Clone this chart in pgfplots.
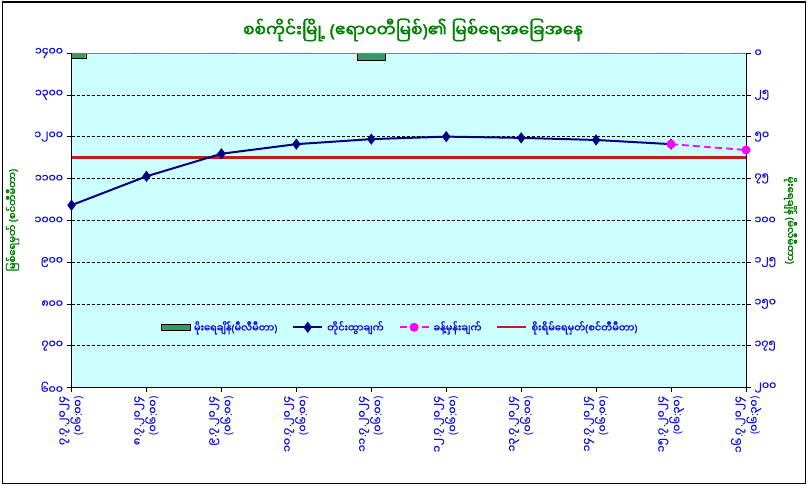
\documentclass[border=0pt]{standalone}
\usepackage{fontspec}
\usepackage{pgfplots}
\usepackage{pgfplotstable}
\pgfplotsset{compat=1.18}
\newfontfamily\my[Script=Myanmar,AutoFakeBold=2]{Noto Sans Myanmar UI}
\newfontfamily\myt[Script=Myanmar,FakeBold=0.8]{Noto Sans Myanmar UI}
\newfontfamily\lat[AutoFakeBold=2]{Noto Sans}
% punctuation that the Myanmar font lacks
\newcommand\p[1]{{\lat#1}}
\definecolor{plotbg}{HTML}{CCFFFF}
\definecolor{rain}{HTML}{339966}
\definecolor{obs}{HTML}{000080}
\definecolor{fcst}{HTML}{FF00FF}
\definecolor{danger}{RGB}{190,30,30}
\definecolor{ttl}{HTML}{008000}
\definecolor{tick}{HTML}{1010E0}

\pgfplotstableread{
x rain
0 3.4
1 0
2 0
3 0
4 4.4
5 0
6 0
7 0
8 0
9 0
}\raintable

\pgfplotsset{
  common/.style={
    at={(71.5pt,98.5pt)}, anchor=south west,
    scale only axis, width=674.5pt, height=334.5pt,
    xmin=0, xmax=9,
    tick align=outside, major tick length=5pt,
    tick style={black, thin},
    ticklabel style={font=\myt\fontsize{11}{12.5}\selectfont, text=tick},
  },
}

\begin{document}
\begin{tikzpicture}
\path[use as bounding box] (0pt,0pt) rectangle (808pt,486pt);
\fill[white] (0pt,0pt) rectangle (808pt,486pt);

% rainfall, right axis, hanging from the top
\begin{axis}[common,
  axis background/.style={fill=plotbg},
  axis x line=none, axis y line*=right,
  ymin=-200, ymax=0,
  ytick={-200,-175,...,0},
  yticklabels={၂၀၀,၁၇၅,၁၅၀,၁၂၅,၁၀၀,၇၅,၅၀,၂၅,၀},
  yticklabel style={anchor=west},
  ylabel={မိုးရေချိန် \p(မီလီမီတာ\p)},
  every axis y label/.style={at={(axis description cs:1.066,0.5)}, anchor=center, rotate=-90,
    font=\my\bfseries\fontsize{10}{12}\selectfont, text=ttl},
]
\addplot[ybar, bar width=0.38, fill=rain, draw=black, thin]
  table[x=x, y expr=-\thisrow{rain}] {\raintable};
\end{axis}

% river level, left axis
\begin{axis}[common,
  axis x line*=bottom, axis y line*=left,
  ymin=600, ymax=1400,
  ytick={600,700,...,1400},
  yticklabels={၆၀၀,၇၀၀,၈၀၀,၉၀၀,၁၀၀၀,၁၁၀၀,၁၂၀၀,၁၃၀၀,၁၄၀၀},
  ymajorgrids, grid style={black, densely dashed, thin},
  xtick={0,...,9},
  xticklabels={
    {၇\p.၇\p.၂၀၂၄\\\p(၀၆\p:၀၀\p)},{၈\p.၇\p.၂၀၂၄\\\p(၀၆\p:၀၀\p)},
    {၉\p.၇\p.၂၀၂၄\\\p(၀၆\p:၀၀\p)},{၁၀\p.၇\p.၂၀၂၄\\\p(၀၆\p:၀၀\p)},
    {၁၁\p.၇\p.၂၀၂၄\\\p(၀၆\p:၀၀\p)},{၁၂\p.၇\p.၂၀၂၄\\\p(၀၆\p:၀၀\p)},
    {၁၃\p.၇\p.၂၀၂၄\\\p(၀၆\p:၀၀\p)},{၁၄\p.၇\p.၂၀၂၄\\\p(၀၆\p:၀၀\p)},
    {၁၅\p.၇\p.၂၀၂၄\\\p(၀၆\p:၃၀\p)},{၁၆\p.၇\p.၂၀၂၄\\\p(၀၆\p:၃၀\p)}},
  xticklabel style={rotate=90, anchor=east, align=right},
  ylabel={မြစ်ရေမှတ် \p(စင်တီမီတာ\p)},
  every axis y label/.style={at={(axis description cs:-0.0875,0.5)}, anchor=center, rotate=90,
    font=\my\bfseries\fontsize{10}{12}\selectfont, text=ttl},
  legend style={at={(0.487,0.18)}, anchor=center, legend columns=4,
    draw=none, fill=none, font=\my\bfseries\fontsize{9.8}{11}\selectfont, text=tick,
    /tikz/every odd column/.append style={column sep=2pt},
    /tikz/every even column/.append style={column sep=13pt}},
  legend image code/.code={
    \draw[mark repeat=2, mark phase=2, #1] plot coordinates {(0pt,0pt) (14.5pt,0pt) (29pt,0pt)};},
]
\addlegendimage{legend image code/.code={
  \draw[fill=rain, draw=black] (0pt,-3pt) rectangle (29pt,3pt);}}
\addlegendentry{မိုးရေချိန်\p(မီလီမီတာ\p)}
\addplot[danger, line width=2.4pt, forget plot] coordinates {(0,1150) (9,1150)};
\addplot[obs, line width=2pt, mark=diamond*, mark size=4pt] coordinates {
  (0,1036) (1,1105) (2,1159) (3,1182) (4,1194) (5,1200) (6,1197) (7,1192) (8,1182)
};
\addlegendentry{တိုင်းထွာချက်}
\addplot[fcst, line width=1.8pt, dash pattern=on 7pt off 4pt, mark=*, mark size=3.6pt,
  mark options={solid}] coordinates {
  (8,1182) (9,1168)
};
\addlegendentry{ခန့်မှန်းချက်}
\addlegendimage{danger, line width=2pt}
\addlegendentry{စိုးရိမ်ရေမှတ်\p(စင်တီမီတာ\p)}
\draw[gray, line width=0.8pt] (rel axis cs:0,1) -- (rel axis cs:1,1);
\end{axis}

\node[font=\my\bfseries\fontsize{17}{20}\selectfont, text=ttl] at (413pt,456pt)
  {စစ်ကိုင်းမြို့ \p(ဧရာဝတီမြစ်\p)၏ မြစ်ရေအခြေအနေ};
\draw[line width=1.3pt] (2.7pt,2.7pt) rectangle (805.3pt,484pt);
\end{tikzpicture}
\end{document}
